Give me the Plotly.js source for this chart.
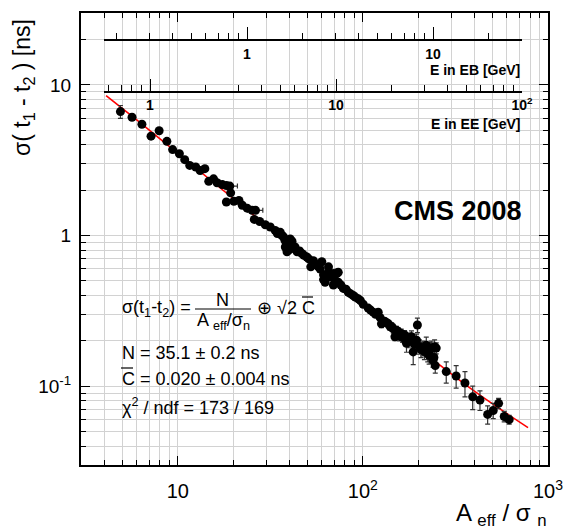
<!DOCTYPE html>
<html><head><meta charset="utf-8">
<script src="https://cdn.plot.ly/plotly-3.0.1.min.js"></script>
<style>html,body{margin:0;padding:0;background:#fff}#chart{width:565px;height:530px}</style>
</head><body><div id="chart"></div>
<script>
// ---- data ----
const ampX = [4.90,5.66,6.4,7.17,7.93,8.73,9.38,10.2,10.9,11.6,12.5,13.2,14.0,14.7,15.6,16.3,17.4,18.3,19.1,19.3,18.3,20.1,21.4,22.3,23.7,25.2,26.3,25.9,27.7,29.7,31.6,33.6,35.8,36.5,37.3,38.1,38.9,38.9,39.7,41.4,40.5,43.0,44.1,46.8,49.8,52.3,54.1,54.0,57.5,60.0,61.3,61.3,62.5,65.2,65.2,69.3,69.3,72.3,73.6,73.6,78.4,83.4,88.7,94.4,100.4,106.8,113.6,121,126,131,137,143,149,155,161,168,172,183,187,195,197,202,211,220,224,234,239,244,246,249,282,319,356,392,429,472,506,541,580,617,
  34.5,37.9,40.0,42.2,45.5,48.0,51.0,56.0,58.8,63.8,67.0,71.0,76.0,81.0,86.0,91.0,97.0,110,117,124,134,140,146,152,158,164,176,180,190,206,215,228,231,242];
const sigmaY = [6.65,6.1,5.48,4.57,4.96,4.22,3.72,3.49,3.19,2.92,2.85,2.70,2.78,2.29,2.38,2.24,2.18,2.15,2.13,1.92,1.67,1.69,1.71,1.59,1.52,1.47,1.47,1.28,1.24,1.18,1.14,1.08,1.05,1.00,0.98,0.84,0.908,0.78,0.80,0.917,0.95,0.84,0.78,0.76,0.72,0.62,0.67,0.68,0.62,0.67,0.55,0.51,0.49,0.57,0.62,0.56,0.47,0.56,0.49,0.57,0.446,0.42,0.40,0.38,0.35,0.33,0.31,0.31,0.26,0.27,0.26,0.248,0.213,0.23,0.224,0.219,0.193,0.213,0.169,0.202,0.255,0.183,0.179,0.187,0.165,0.179,0.149,0.183,0.137,0.179,0.125,0.117,0.105,0.085,0.081,0.065,0.069,0.077,0.063,0.060,
  1.03,0.93,0.88,0.82,0.79,0.74,0.70,0.64,0.60,0.55,0.53,0.50,0.47,0.44,0.41,0.39,0.37,0.32,0.30,0.285,0.265,0.25,0.24,0.235,0.215,0.21,0.2,0.205,0.19,0.175,0.17,0.16,0.175,0.155];
const sigmaErr = [0.65,0.2,0.15,0.12,0.12,0.1,0.08,0.07,0.06,0.05,0.05,0.05,0.05,0.04,0.04,0.04,0.04,0.04,0.04,0.03,0.03,0.03,0.03,0.03,0.03,0.03,0.03,0.03,0.02,0.02,0.02,0.02,0.02,0.02,0.02,0.02,0.02,0.02,0.02,0.02,0.02,0.02,0.02,0.02,0.02,0.02,0.02,0.02,0.02,0.02,0.02,0.02,0.02,0.02,0.02,0.02,0.02,0.04,0.02,0.02,0.015,0.015,0.015,0.015,0.015,0.012,0.012,0.012,0.015,0.012,0.012,0.015,0.012,0.015,0.015,0.015,0.025,0.02,0.03,0.02,0.028,0.02,0.02,0.025,0.02,0.02,0.015,0.02,0.015,0.015,0.02,0.02,0.02,0.015,0.012,0.009,0.008,0.006,0.005,0.004,
  0.02,0.02,0.02,0.02,0.02,0.02,0.02,0.02,0.02,0.02,0.02,0.02,0.015,0.015,0.015,0.015,0.015,0.012,0.012,0.012,0.012,0.015,0.015,0.015,0.015,0.015,0.02,0.02,0.02,0.02,0.02,0.02,0.02,0.02];
const ampXErr = [0,0,0,0,0,0,0,0,0,0,0,0,0,0,0,0,0,0,1.9,0,0,0,0,0,0,0,2.5];
const fitX = [4.1,6,10,20,50,100,200,400,780];
const fitY = [8.5,5.85,3.51,1.755,0.703,0.352,0.178,0.0927,0.0531];
// tick labels
const xTickVals = [10,100,1000], xTickText = ['10','10<sup>2</sup>','10<sup>3</sup>'];
const yTickVals = [0.1,1,10], yTickText = ['10<sup>-1</sup>','1','10'];
const ebTickVals = [1,10], ebTickText = ['1','10'];
const eeTickVals = [1,10,100], eeTickText = ['1','10','10<sup>2</sup>'];

// ---- geometry helpers ----
const W=565,H=530,L=81,R=17,T=13,B=65;
const PW=W-L-R, PH=H-T-B;
const px = v => (v-L)/PW;
const py = v => (H-B-v)/PH;
function minorVals(lo, hi){ const out=[]; for(let e=lo;e<hi;e++){ for(let d=2;d<=9;d++){ out.push(d*Math.pow(10,e)); } } return out; }

const FONT = 'Liberation Sans, Arial, Helvetica, sans-serif';
const GRID = '#d2d2d2';

// carrier traces (draw nothing) so the energy axes are created
const ebCarrier = {x: ebTickVals, y: [1,1], xaxis:'x2', yaxis:'y2', type:'scatter', mode:'none', showlegend:false, hoverinfo:'skip'};
const eeCarrier = {x: eeTickVals, y: [1,1,1], xaxis:'x3', yaxis:'y2', type:'scatter', mode:'none', showlegend:false, hoverinfo:'skip'};
const fitTrace = {
  x: fitX, y: fitY, type:'scatter', mode:'lines', line:{color:'#ff0000', width:1.6, shape:'spline'},
  showlegend:false, hoverinfo:'skip'
};
const dataTrace = {
  x: ampX, y: sigmaY, type:'scatter', mode:'markers',
  marker:{color:'black', size:9},
  error_y:{type:'data', array:sigmaErr, visible:true, color:'#333', thickness:1.2, width:2.5},
  error_x:{type:'data', array:ampXErr, visible:true, color:'#333', thickness:1.2, width:2.5},
  showlegend:false, hoverinfo:'skip'
};

const mainAxis = {
  type:'log', showline:true, linecolor:'black', linewidth:2, mirror:'ticks',
  ticks:'inside', ticklen:9, tickwidth:1, tickcolor:'black',
  showgrid:true, gridcolor:GRID, gridwidth:1, zeroline:false,
  tickmode:'array',
  tickfont:{family:FONT, size:20, color:'black'}
};
const energyAxis = {
  type:'log', anchor:'free', domain:[px(104), px(522)],
  showline:true, linecolor:'black', linewidth:1.5, showgrid:false, zeroline:false,
  tickmode:'array', ticks:'inside', ticklen:12, tickcolor:'black', tickwidth:1,
  ticklabelstandoff:1,
  tickfont:{family:FONT, size:14, weight:'bold', color:'black'},
  minor:{tickmode:'array', tickvals:minorVals(-1,2), ticks:'inside', ticklen:6, tickcolor:'black', showgrid:false}
};

const layout = {
  width:W, height:H, margin:{l:L,r:R,t:T,b:B},
  paper_bgcolor:'white', plot_bgcolor:'rgba(0,0,0,0)',
  font:{family:FONT, color:'black'},
  xaxis: Object.assign({}, mainAxis, {
    range:[Math.log10(3), 3], tickvals:xTickVals, ticktext:xTickText, ticklabelstandoff:7,
    minor:{tickmode:'array', tickvals:minorVals(0,3), ticks:'inside', ticklen:5, tickcolor:'black', showgrid:true, gridcolor:GRID, gridwidth:1}
  }),
  yaxis: Object.assign({}, mainAxis, {
    range:[Math.log10(0.03), Math.log10(30)], tickvals:yTickVals, ticktext:yTickText, ticklabelstandoff:4,
    tickfont:{family:FONT, size:19, color:'black'},
    minor:{tickmode:'array', tickvals:minorVals(-2,2), ticks:'inside', ticklen:5, tickcolor:'black', showgrid:true, gridcolor:GRID, gridwidth:1}
  }),
  yaxis2: {type:'log', range:[Math.log10(0.03), Math.log10(30)], domain:[0,1], anchor:'free', position:0, visible:false},
  xaxis2: Object.assign({}, energyAxis, {
    position:py(39.3), range:[-0.7688, 1.4785], tickvals:ebTickVals, ticktext:ebTickText
  }),
  xaxis3: Object.assign({}, energyAxis, {
    position:py(91), range:[-0.2473, 2], tickvals:eeTickVals, ticktext:eeTickText
  }),
  annotations: [
    {xref:'paper', yref:'paper', x:px(522), y:py(70), xanchor:'right', yanchor:'middle', showarrow:false,
      text:'<b>E in EB [GeV]</b>', font:{family:FONT, size:14, color:'black'}},
    {xref:'paper', yref:'paper', x:px(522), y:py(124), xanchor:'right', yanchor:'middle', showarrow:false,
      text:'<b>E in EE [GeV]</b>', font:{family:FONT, size:14, color:'black'}},
    {xref:'paper', yref:'paper', x:px(524), y:py(211), xanchor:'right', yanchor:'middle', showarrow:false,
      text:'<b>CMS 2008</b>', font:{family:FONT, size:27, color:'black'}},
    {xref:'paper', yref:'paper', x:px(120), y:py(308), xanchor:'left', yanchor:'middle', showarrow:false,
      text:'σ(t<sub>1</sub>-t<sub>2</sub>) =', font:{family:FONT, size:18, color:'black'}},
    {xref:'paper', yref:'paper', x:px(222), y:py(300), xanchor:'center', yanchor:'middle', showarrow:false,
      text:'N', font:{family:FONT, size:18, color:'black'}},
    {xref:'paper', yref:'paper', x:px(223), y:py(321), xanchor:'center', yanchor:'middle', showarrow:false,
      text:'A <sub>eff</sub>/σ<sub>n</sub>', font:{family:FONT, size:18, color:'black'}},
    {xref:'paper', yref:'paper', x:px(255), y:py(308), xanchor:'left', yanchor:'middle', showarrow:false,
      text:'⊕ √2 C', font:{family:FONT, size:18, color:'black'}},
    {xref:'paper', yref:'paper', x:px(120), y:py(353), xanchor:'left', yanchor:'middle', showarrow:false,
      text:'N = 35.1 ± 0.2 ns', font:{family:FONT, size:18, color:'black'}},
    {xref:'paper', yref:'paper', x:px(120), y:py(379), xanchor:'left', yanchor:'middle', showarrow:false,
      text:'C = 0.020 ± 0.004 ns', font:{family:FONT, size:18, color:'black'}},
    {xref:'paper', yref:'paper', x:px(120), y:py(406), xanchor:'left', yanchor:'middle', showarrow:false,
      text:'χ<sup>2</sup> / ndf = 173 / 169', font:{family:FONT, size:18, color:'black'}},
    {xref:'paper', yref:'paper', x:px(549), y:py(514), xanchor:'right', yanchor:'middle', showarrow:false,
      text:'A <sub>eff</sub> / σ <sub>n</sub>', font:{family:FONT, size:24, color:'black'}},
    {xref:'paper', yref:'paper', x:px(24), y:py(88), xanchor:'center', yanchor:'middle', showarrow:false, textangle:-90,
      text:'σ( t<sub>1</sub> - t<sub>2</sub> ) [ns]', font:{family:FONT, size:23, color:'black'}}
  ],
  shapes: [
    {type:'line', xref:'paper', yref:'paper', x0:px(195), x1:px(251), y0:py(309), y1:py(309), line:{color:'black', width:1.2}},
    {type:'line', xref:'paper', yref:'paper', x0:px(302), x1:px(313), y0:py(297), y1:py(297), line:{color:'black', width:1.2}},
    {type:'line', xref:'paper', yref:'paper', x0:px(121), x1:px(133), y0:py(368), y1:py(368), line:{color:'black', width:1.2}}
  ]
};

Plotly.newPlot('chart', [fitTrace, dataTrace, ebCarrier, eeCarrier], layout, {staticPlot:true, displayModeBar:false});
</script></body></html>
